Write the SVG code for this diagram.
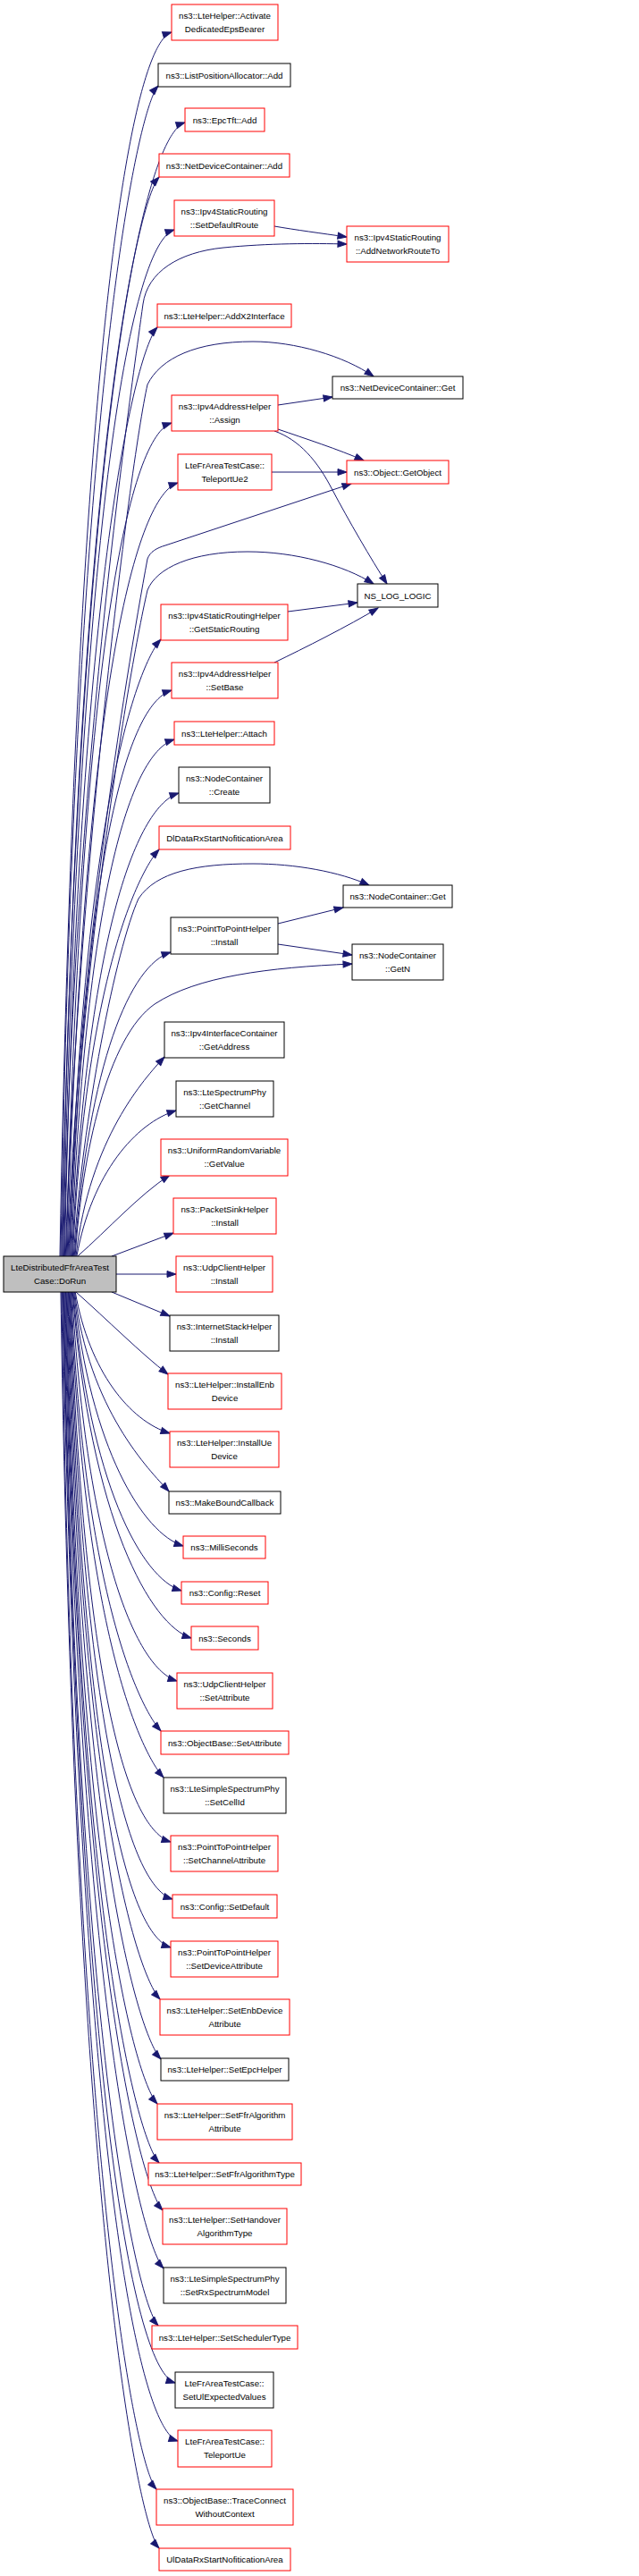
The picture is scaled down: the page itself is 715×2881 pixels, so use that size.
<svg xmlns="http://www.w3.org/2000/svg" width="715" height="2881" viewBox="0 0 715 2881">
<style>
rect{fill:#fff;stroke-width:1}
.r{stroke:#ff0000}
.b{stroke:#000}
.m{fill:#bfbfbf;stroke:#000}
text{font-family:"Liberation Sans",Arial,sans-serif;font-size:9.7px;text-anchor:middle;fill:#000}
#edges path{fill:none;stroke:#191970;stroke-width:1;marker-end:url(#a)}
</style>
<defs>
<marker id="a" markerUnits="userSpaceOnUse" markerWidth="11" markerHeight="8" refX="10" refY="3.5" orient="auto" overflow="visible"><path d="M0,0 L10,3.5 L0,7 z" fill="#191970" stroke="#191970" stroke-width="1"/></marker>
</defs>
<rect x="0" y="0" width="715" height="2881" style="fill:#fff;stroke:none"/>
<g id="edges">
<path d="M67,1405 C85.8,378 147,50 192,36"/>
<path d="M67.9,1405 C84.3,423 155,120 177,96"/>
<path d="M68.8,1405 C89.5,454 162,151 207,137"/>
<path d="M69.7,1405 C85.9,500 156,222 178,198"/>
<path d="M70.6,1405 C89.3,544 150,271 195,257"/>
<path d="M71.5,1405 C82,900 135,520 160,340 C165,304 200,282 250,277 C300,272 350,272 388,273"/>
<path d="M72.4,1405 C87.9,626 154,390 176,366"/>
<path d="M73.3,1405 C85,1000 145,520 165,430 C180,400 220,382 283,382 C330,382 385,398 418,421"/>
<path d="M74.2,1405 C91.9,706 147,487 192,473"/>
<path d="M75.1,1405 C93.7,756 154,554 199,540"/>
<path d="M76,1405 C85,1100 140,760 165,625 C168,617 175,613 185,610 L393,541"/>
<path d="M76.9,1405 C88,1100 140,770 165,660 C175,635 215,617 277,617 C330,617 385,632 418,653"/>
<path d="M77.8,1405 C93.1,887 158,739 180,715"/>
<path d="M78.7,1405 C95.7,930 147,786 192,772"/>
<path d="M79.6,1405 C96.9,977 150,841 195,827"/>
<path d="M80.5,1405 C98.4,1034 155,901 200,887"/>
<path d="M81.4,1405 C95.9,1091 156,974 178,950"/>
<path d="M82.3,1405 C92,1250 130,1060 155,1005 C175,975 220,966 283,966 C330,966 380,975 413,990"/>
<path d="M83.2,1405 C99.4,1187 146,1079 191,1065"/>
<path d="M84.1,1405 C92,1290 120,1160 173,1123 C220,1092 300,1082 394,1078"/>
<path d="M85,1405 C99.9,1273 162,1206 184,1182"/>
<path d="M85.9,1405 C102.6,1312 152,1256 197,1242"/>
<path d="M86.8,1405 C120.9,1375 155,1337 190,1314"/>
<path d="M125,1405 L194,1379"/>
<path d="M130,1425 L197,1425"/>
<path d="M125,1445 L190,1472"/>
<path d="M85,1445 C119,1475 158,1514 188,1537"/>
<path d="M84.2,1445 C100.1,1534 145,1589 190,1603"/>
<path d="M83.5,1445 C99.3,1577 167,1644 189,1668"/>
<path d="M82.7,1445 C101,1620 160,1715 205,1729"/>
<path d="M81.9,1445 C100.1,1658 158,1765 203,1779"/>
<path d="M81.2,1445 C101.1,1701 169,1818 214,1832"/>
<path d="M80.4,1445 C98,1741 153,1866 198,1880"/>
<path d="M79.6,1445 C94.7,1791 158,1912 180,1936"/>
<path d="M78.8,1445 C94.4,1839 161,1964 183,1988"/>
<path d="M78.1,1445 C95,1906 146,2046 191,2060"/>
<path d="M77.3,1445 C94.7,1954 148,2110 193,2124"/>
<path d="M76.5,1445 C93.7,1995 146,2164 191,2178"/>
<path d="M75.8,1445 C91.3,2038 157,2212 179,2236"/>
<path d="M75,1445 C90.8,2088 158,2279 180,2303"/>
<path d="M74.2,1445 C89.5,2126 154,2329 176,2353"/>
<path d="M73.5,1445 C89.2,2175 156,2395 178,2419"/>
<path d="M72.7,1445 C89.1,2215 160,2448 182,2472"/>
<path d="M71.9,1445 C88.6,2264 161,2513 183,2537"/>
<path d="M71.2,1445 C87.1,2312 155,2577 177,2601"/>
<path d="M70.4,1445 C89.2,2360 151,2651 196,2665"/>
<path d="M69.6,1445 C89,2409 154,2716 199,2730"/>
<path d="M68.8,1445 C84.7,2449 153,2760 175,2784"/>
<path d="M68,1445 C84.5,2499 156,2826 178,2850"/>
<path d="M307,253 C330,257 360,261 388,265"/>
<path d="M311,453 L372,444"/>
<path d="M311,480 C340,490 380,503 407,515"/>
<path d="M307,482 C335,492 355,515 372,548 C390,582 415,625 433,653"/>
<path d="M304,528 L388,528"/>
<path d="M322,684 L400,674"/>
<path d="M307,741 C340,725 390,700 423,680"/>
<path d="M311,1033 L384,1015"/>
<path d="M311,1056 L394,1068"/>
</g>
<g id="n1"><rect class="r" x="192" y="5" width="119" height="40"/><text x="251.5" y="21">ns3::LteHelper::Activate</text><text x="251.5" y="35.5">DedicatedEpsBearer</text></g>
<g id="n2"><rect class="b" x="177" y="71" width="148" height="26"/><text x="251" y="87.5">ns3::ListPositionAllocator::Add</text></g>
<g id="n3"><rect class="r" x="207" y="121" width="89" height="26"/><text x="251.5" y="137.5">ns3::EpcTft::Add</text></g>
<g id="n4"><rect class="r" x="178" y="172" width="146" height="26"/><text x="251" y="188.5">ns3::NetDeviceContainer::Add</text></g>
<g id="n5"><rect class="r" x="195" y="224" width="112" height="40"/><text x="251" y="240">ns3::Ipv4StaticRouting</text><text x="251" y="254.5">::SetDefaultRoute</text></g>
<g id="n6"><rect class="r" x="388" y="253" width="114" height="40"/><text x="445" y="269">ns3::Ipv4StaticRouting</text><text x="445" y="283.5">::AddNetworkRouteTo</text></g>
<g id="n7"><rect class="r" x="176" y="340" width="150" height="26"/><text x="251" y="356.5">ns3::LteHelper::AddX2Interface</text></g>
<g id="n8"><rect class="b" x="372" y="421" width="146" height="25"/><text x="445" y="437">ns3::NetDeviceContainer::Get</text></g>
<g id="n9"><rect class="r" x="192" y="442" width="119" height="40"/><text x="251.5" y="458">ns3::Ipv4AddressHelper</text><text x="251.5" y="472.5">::Assign</text></g>
<g id="n10"><rect class="r" x="199" y="508" width="105" height="40"/><text x="251.5" y="524">LteFrAreaTestCase::</text><text x="251.5" y="538.5">TeleportUe2</text></g>
<g id="n11"><rect class="r" x="388" y="515" width="114" height="26"/><text x="445" y="531.5">ns3::Object::GetObject</text></g>
<g id="n12"><rect class="b" x="400" y="653" width="90" height="26"/><text x="445" y="669.5">NS_LOG_LOGIC</text></g>
<g id="n13"><rect class="r" x="180" y="676" width="142" height="40"/><text x="251" y="692">ns3::Ipv4StaticRoutingHelper</text><text x="251" y="706.5">::GetStaticRouting</text></g>
<g id="n14"><rect class="r" x="192" y="741" width="119" height="40"/><text x="251.5" y="757">ns3::Ipv4AddressHelper</text><text x="251.5" y="771.5">::SetBase</text></g>
<g id="n15"><rect class="r" x="195" y="807" width="112" height="26"/><text x="251" y="823.5">ns3::LteHelper::Attach</text></g>
<g id="n16"><rect class="b" x="200" y="858" width="102" height="40"/><text x="251" y="874">ns3::NodeContainer</text><text x="251" y="888.5">::Create</text></g>
<g id="n17"><rect class="r" x="178" y="924" width="147" height="26"/><text x="251.5" y="940.5">DlDataRxStartNofiticationArea</text></g>
<g id="n18"><rect class="b" x="384" y="990" width="122" height="25"/><text x="445" y="1006">ns3::NodeContainer::Get</text></g>
<g id="n19"><rect class="b" x="191" y="1026" width="120" height="41"/><text x="251" y="1042">ns3::PointToPointHelper</text><text x="251" y="1056.5">::Install</text></g>
<g id="n20"><rect class="b" x="394" y="1056" width="102" height="40"/><text x="445" y="1072">ns3::NodeContainer</text><text x="445" y="1086.5">::GetN</text></g>
<g id="n21"><rect class="b" x="184" y="1143" width="134" height="40"/><text x="251" y="1159">ns3::Ipv4InterfaceContainer</text><text x="251" y="1173.5">::GetAddress</text></g>
<g id="n22"><rect class="b" x="197" y="1209" width="109" height="40"/><text x="251.5" y="1225">ns3::LteSpectrumPhy</text><text x="251.5" y="1239.5">::GetChannel</text></g>
<g id="n23"><rect class="r" x="180" y="1274" width="142" height="41"/><text x="251" y="1290">ns3::UniformRandomVariable</text><text x="251" y="1304.5">::GetValue</text></g>
<g id="n24"><rect class="r" x="194" y="1340" width="115" height="40"/><text x="251.5" y="1356">ns3::PacketSinkHelper</text><text x="251.5" y="1370.5">::Install</text></g>
<g id="n25"><rect class="r" x="197" y="1405" width="108" height="40"/><text x="251" y="1421">ns3::UdpClientHelper</text><text x="251" y="1435.5">::Install</text></g>
<g id="n26"><rect class="m" x="4" y="1405" width="126" height="40"/><text x="67" y="1421">LteDistributedFfrAreaTest</text><text x="67" y="1435.5">Case::DoRun</text></g>
<g id="n27"><rect class="b" x="190" y="1471" width="122" height="40"/><text x="251" y="1487">ns3::InternetStackHelper</text><text x="251" y="1501.5">::Install</text></g>
<g id="n28"><rect class="r" x="188" y="1536" width="127" height="40"/><text x="251.5" y="1552">ns3::LteHelper::InstallEnb</text><text x="251.5" y="1566.5">Device</text></g>
<g id="n29"><rect class="r" x="190" y="1601" width="122" height="40"/><text x="251" y="1617">ns3::LteHelper::InstallUe</text><text x="251" y="1631.5">Device</text></g>
<g id="n30"><rect class="b" x="189" y="1668" width="125" height="25"/><text x="251.5" y="1684">ns3::MakeBoundCallback</text></g>
<g id="n31"><rect class="r" x="205" y="1718" width="92" height="25"/><text x="251" y="1734">ns3::MilliSeconds</text></g>
<g id="n32"><rect class="r" x="203" y="1769" width="97" height="25"/><text x="251.5" y="1785">ns3::Config::Reset</text></g>
<g id="n33"><rect class="r" x="214" y="1819" width="75" height="26"/><text x="251.5" y="1835.5">ns3::Seconds</text></g>
<g id="n34"><rect class="r" x="198" y="1871" width="107" height="40"/><text x="251.5" y="1887">ns3::UdpClientHelper</text><text x="251.5" y="1901.5">::SetAttribute</text></g>
<g id="n35"><rect class="r" x="180" y="1936" width="143" height="26"/><text x="251.5" y="1952.5">ns3::ObjectBase::SetAttribute</text></g>
<g id="n36"><rect class="b" x="183" y="1988" width="137" height="40"/><text x="251.5" y="2004">ns3::LteSimpleSpectrumPhy</text><text x="251.5" y="2018.5">::SetCellId</text></g>
<g id="n37"><rect class="r" x="191" y="2053" width="120" height="40"/><text x="251" y="2069">ns3::PointToPointHelper</text><text x="251" y="2083.5">::SetChannelAttribute</text></g>
<g id="n38"><rect class="r" x="193" y="2119" width="117" height="26"/><text x="251.5" y="2135.5">ns3::Config::SetDefault</text></g>
<g id="n39"><rect class="r" x="191" y="2171" width="120" height="40"/><text x="251" y="2187">ns3::PointToPointHelper</text><text x="251" y="2201.5">::SetDeviceAttribute</text></g>
<g id="n40"><rect class="r" x="179" y="2236" width="145" height="40"/><text x="251.5" y="2252">ns3::LteHelper::SetEnbDevice</text><text x="251.5" y="2266.5">Attribute</text></g>
<g id="n41"><rect class="b" x="180" y="2302" width="143" height="25"/><text x="251.5" y="2318">ns3::LteHelper::SetEpcHelper</text></g>
<g id="n42"><rect class="r" x="176" y="2353" width="151" height="40"/><text x="251.5" y="2369">ns3::LteHelper::SetFfrAlgorithm</text><text x="251.5" y="2383.5">Attribute</text></g>
<g id="n43"><rect class="r" x="166" y="2419" width="171" height="25"/><text x="251.5" y="2435">ns3::LteHelper::SetFfrAlgorithmType</text></g>
<g id="n44"><rect class="r" x="182" y="2470" width="139" height="40"/><text x="251.5" y="2486">ns3::LteHelper::SetHandover</text><text x="251.5" y="2500.5">AlgorithmType</text></g>
<g id="n45"><rect class="b" x="183" y="2536" width="137" height="40"/><text x="251.5" y="2552">ns3::LteSimpleSpectrumPhy</text><text x="251.5" y="2566.5">::SetRxSpectrumModel</text></g>
<g id="n46"><rect class="r" x="170" y="2601" width="163" height="26"/><text x="251.5" y="2617.5">ns3::LteHelper::SetSchedulerType</text></g>
<g id="n47"><rect class="b" x="196" y="2653" width="110" height="40"/><text x="251" y="2669">LteFrAreaTestCase::</text><text x="251" y="2683.5">SetUlExpectedValues</text></g>
<g id="n48"><rect class="r" x="199" y="2718" width="105" height="41"/><text x="251.5" y="2734">LteFrAreaTestCase::</text><text x="251.5" y="2748.5">TeleportUe</text></g>
<g id="n49"><rect class="r" x="175" y="2784" width="153" height="40"/><text x="251.5" y="2800">ns3::ObjectBase::TraceConnect</text><text x="251.5" y="2814.5">WithoutContext</text></g>
<g id="n50"><rect class="r" x="178" y="2850" width="147" height="25"/><text x="251.5" y="2866">UlDataRxStartNofiticationArea</text></g>
</svg>
